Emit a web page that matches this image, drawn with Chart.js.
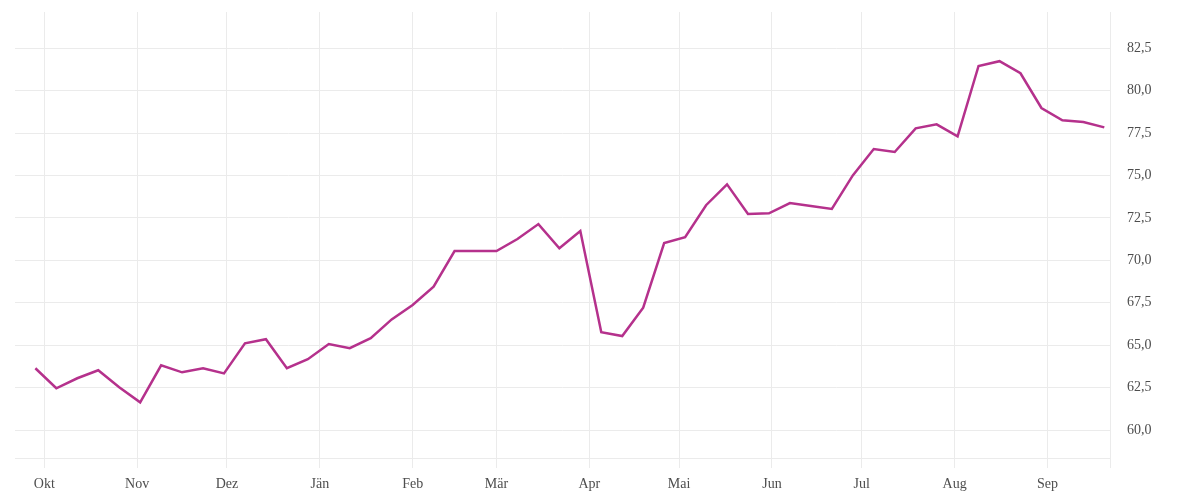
<!DOCTYPE html>
<html lang="de">
<head>
<meta charset="utf-8">
<title>Verlauf</title>
<script src="https://cdn.jsdelivr.net/npm/chart.js@4/dist/chart.umd.min.js"></script>
<style>
  html, body { margin: 0; padding: 0; background: #ffffff; }
  #wrap { width: 1200px; height: 500px; position: relative; }
</style>
</head>
<body>
<div id="wrap"><canvas id="chart"></canvas></div>
<script>
const weekDates = [
    '2022-09-28', '2022-10-05', '2022-10-12', '2022-10-19', '2022-10-26',
    '2022-11-02', '2022-11-09', '2022-11-16', '2022-11-23', '2022-11-30',
    '2022-12-07', '2022-12-14', '2022-12-21', '2022-12-28', '2023-01-04',
    '2023-01-11', '2023-01-18', '2023-01-25', '2023-02-01', '2023-02-08',
    '2023-02-15', '2023-02-22', '2023-03-01', '2023-03-08', '2023-03-15',
    '2023-03-22', '2023-03-29', '2023-04-05', '2023-04-12', '2023-04-19',
    '2023-04-26', '2023-05-03', '2023-05-10', '2023-05-17', '2023-05-24',
    '2023-05-31', '2023-06-07', '2023-06-14', '2023-06-21', '2023-06-28',
    '2023-07-05', '2023-07-12', '2023-07-19', '2023-07-26', '2023-08-02',
    '2023-08-09', '2023-08-16', '2023-08-23', '2023-08-30', '2023-09-06',
    '2023-09-13', '2023-09-20'
];
const weekValues = [
    63.64, 62.46, 63.05, 63.52, 62.52, 61.63, 63.81, 63.40, 63.64, 63.34,
    65.11, 65.35, 63.64, 64.17, 65.07, 64.82, 65.41, 66.52, 67.37, 68.45,
    70.55, 70.55, 70.55, 71.26, 72.14, 70.71, 71.73, 65.76, 65.54, 67.21,
    71.02, 71.36, 73.25, 74.48, 72.73, 72.77, 73.38, 73.20, 73.03, 75.01,
    76.56, 76.39, 77.78, 78.02, 77.31, 81.46, 81.74, 81.03, 78.98, 78.26,
    78.16, 77.84
];

// Axis ticks
const monthStarts = [
    '2022-10-01', '2022-11-01', '2022-12-01', '2023-01-01', '2023-02-01', '2023-03-01',
    '2023-04-01', '2023-05-01', '2023-06-01', '2023-07-01', '2023-08-01', '2023-09-01'
];
const monthLabels = ['Okt', 'Nov', 'Dez', 'Jän', 'Feb', 'Mär', 'Apr', 'Mai', 'Jun', 'Jul', 'Aug', 'Sep'];
const yTicks = [60, 62.5, 65, 67.5, 70, 72.5, 75, 77.5, 80, 82.5];

function toDay(s) {
    const p = s.split('-').map(Number);
    return Date.UTC(p[0], p[1] - 1, p[2]) / 86400000;
}

const monthDays = monthStarts.map(toDay);
const xMin = monthDays[0] - 9.8;
const xMax = monthDays[monthDays.length - 1] + 20.9;

const points = weekDates.map(function(d, i) {
    return { x: toDay(d), y: weekValues[i] };
});

const gridColor = '#ebebeb';
const textColor = '#4d4d4d';
const fontFamily = '"Liberation Serif", "DejaVu Serif", serif';

// drop the label overflow padding so the plot area sits where the reference has it
function noOverflow(scale) {
    scale.paddingTop = 0;
    scale.paddingBottom = 0;
    scale.paddingLeft = 0;
    scale.paddingRight = 0;
}

new Chart(document.getElementById('chart').getContext('2d'), {
    type: 'line',
    data: {
        datasets: [{
            data: points,
            borderColor: '#b5318c',
            borderWidth: 2.5,
            pointRadius: 0,
            tension: 0,
            fill: false
        }]
    },
    options: {
        responsive: true,
        maintainAspectRatio: false,
        animation: false,
        layout: {
            padding: { left: 15, top: 12, right: 0, bottom: 0 }
        },
        plugins: {
            legend: { display: false },
            tooltip: { enabled: false }
        },
        scales: {
            x: {
                type: 'linear',
                min: xMin,
                max: xMax,
                afterBuildTicks: function(scale) {
                    scale.ticks = monthDays.map(function(v) { return { value: v }; });
                    scale.ticks.push({ value: xMax });
                },
                afterFit: function(scale) {
                    scale.height = 42;
                    noOverflow(scale);
                },
                grid: {
                    color: gridColor,
                    lineWidth: 1,
                    drawTicks: true,
                    tickLength: 10
                },
                border: {
                    display: true,
                    color: gridColor,
                    width: 1
                },
                ticks: {
                    autoSkip: false,
                    maxRotation: 0,
                    padding: 8,
                    color: textColor,
                    font: { family: fontFamily, size: 14 },
                    callback: function(value) {
                        const idx = monthDays.indexOf(value);
                        return idx >= 0 ? monthLabels[idx] : '';
                    }
                }
            },
            y: {
                position: 'right',
                min: 58.35,
                max: 84.64,
                afterBuildTicks: function(scale) {
                    scale.ticks = yTicks.map(function(v) { return { value: v }; });
                },
                afterFit: function(scale) {
                    scale.width = 90;
                    noOverflow(scale);
                },
                grid: {
                    color: gridColor,
                    lineWidth: 1,
                    drawTicks: false
                },
                border: {
                    display: false
                },
                ticks: {
                    padding: 17,
                    color: textColor,
                    font: { family: fontFamily, size: 14 },
                    callback: function(value) {
                        return value.toFixed(1).replace('.', ',');
                    }
                }
            }
        }
    }
});
</script>
</body>
</html>
